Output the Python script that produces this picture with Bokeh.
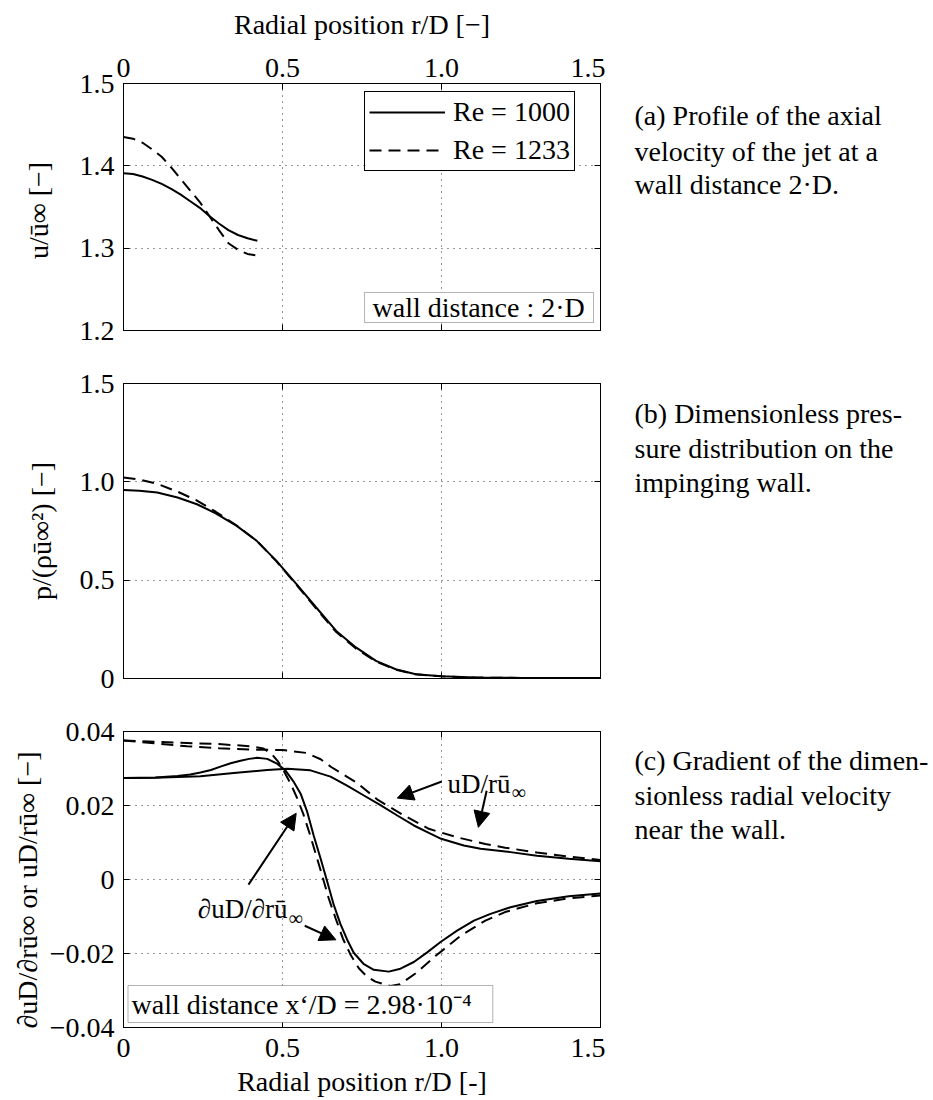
from bokeh.plotting import figure
from bokeh.layouts import column, row
from bokeh.models import (FixedTicker, LinearAxis, Range1d, Label, Arrow,
                          NormalHead, BoxAnnotation)
from bokeh.embed import file_html
from bokeh.resources import INLINE

# ---------------- data ----------------
x_ticks = [0, 0.5, 1.0, 1.5]
x_tick_labels = ["0", "0.5", "1.0", "1.5"]
ya_ticks = [1.2, 1.3, 1.4, 1.5]
ya_tick_labels = ["1.2", "1.3", "1.4", "1.5"]
yb_ticks = [0, 0.5, 1.0, 1.5]
yb_tick_labels = ["0", "0.5", "1.0", "1.5"]
yc_ticks = [-0.04, -0.02, 0, 0.02, 0.04]
yc_tick_labels = ["\u22120.04", "\u22120.02", "0", "0.02", "0.04"]

series_names = ["Re = 1000", "Re = 1233"]

# (a) axial velocity profile at wall distance 2D
r_a = [0, 0.03, 0.06, 0.09, 0.12, 0.15, 0.18, 0.21, 0.24, 0.27, 0.30, 0.33, 0.36, 0.39, 0.421]
u_a_1000 = [1.391, 1.390, 1.387, 1.383, 1.378, 1.372, 1.365, 1.357, 1.349, 1.339, 1.330, 1.322, 1.316, 1.312, 1.309]
u_a_1233 = [1.435, 1.433, 1.428, 1.420, 1.411, 1.398, 1.384, 1.370, 1.356, 1.339, 1.322, 1.306, 1.298, 1.293, 1.291]

# (b) pressure on the impinging wall
r_b = [0, 0.05, 0.106, 0.17, 0.231, 0.29, 0.356, 0.419, 0.481, 0.544, 0.606, 0.669,
       0.731, 0.794, 0.856, 0.919, 1.0, 1.106, 1.25, 1.5]
p_b_1000 = [0.959, 0.955, 0.946, 0.920, 0.886, 0.840, 0.776, 0.700, 0.598, 0.480, 0.361, 0.242,
            0.158, 0.090, 0.047, 0.022, 0.012, 0.005, 0.003, 0.002]
p_b_1233 = [1.022, 1.012, 0.990, 0.950, 0.905, 0.848, 0.778, 0.700, 0.596, 0.476, 0.355, 0.236,
            0.152, 0.086, 0.045, 0.021, 0.011, 0.005, 0.003, 0.002]

# (c) radial velocity near the wall: uD/(r u_inf)
r_c_u1000 = [0, 0.1, 0.242, 0.347, 0.452, 0.515, 0.588, 0.651, 0.703, 0.756, 0.808, 0.861,
             0.913, 0.965, 0.999, 1.070, 1.123, 1.217, 1.3, 1.4, 1.5]
u_c_1000 = [0.0274, 0.0275, 0.0279, 0.0288, 0.0296, 0.0299, 0.0295, 0.0278, 0.0254, 0.0227, 0.0201, 0.0173,
            0.0146, 0.0124, 0.0110, 0.0092, 0.0083, 0.0074, 0.0064, 0.0056, 0.0049]
r_c_u1233 = [0, 0.1, 0.2, 0.3, 0.4, 0.5, 0.576, 0.62, 0.653, 0.733, 0.80, 0.882, 0.960,
             1.049, 1.138, 1.2, 1.3, 1.4, 1.5]
u_c_1233 = [0.0376, 0.0368, 0.0360, 0.0355, 0.0351, 0.0350, 0.0342, 0.0325, 0.0304, 0.0262, 0.0215, 0.0173, 0.0137,
            0.0114, 0.0096, 0.0086, 0.0073, 0.0062, 0.0053]

# (c) gradient d(uD)/d(r u_inf)
r_c_g1000 = [0, 0.10, 0.17, 0.21, 0.242, 0.275, 0.305, 0.337, 0.368, 0.395, 0.42, 0.452, 0.483, 0.509,
             0.536, 0.557, 0.578, 0.598, 0.620, 0.641, 0.661, 0.682, 0.703, 0.724, 0.756, 0.787, 0.834,
             0.871, 0.913, 0.955, 0.997, 1.049, 1.102, 1.154, 1.217, 1.3, 1.4, 1.5]
g_c_1000 = [0.0274, 0.0276, 0.0280, 0.0284, 0.0289, 0.0296, 0.0305, 0.0314, 0.0321, 0.0326, 0.0329, 0.0326,
            0.0313, 0.0295, 0.0263, 0.0232, 0.0182, 0.0119, 0.0056, -0.0007, -0.0068, -0.0120, -0.0162,
            -0.0198, -0.0229, -0.0244, -0.0249, -0.0241, -0.0223, -0.0197, -0.0169, -0.0138, -0.0111,
            -0.0093, -0.0075, -0.0058, -0.0045, -0.0038]
r_c_g1233 = [0, 0.1, 0.2, 0.3, 0.4, 0.44, 0.465, 0.485, 0.505, 0.525, 0.545, 0.565, 0.585, 0.605,
             0.625, 0.645, 0.667, 0.69, 0.715, 0.74, 0.765, 0.792, 0.84, 0.87, 0.918, 0.981, 1.06,
             1.138, 1.2, 1.3, 1.4, 1.5]
g_c_1233 = [0.0376, 0.0372, 0.0369, 0.0366, 0.0360, 0.0354, 0.0340, 0.0320, 0.0292, 0.0260, 0.0222, 0.0178, 0.0125, 0.0068,
            0.0010, -0.0050, -0.0105, -0.0160, -0.0205, -0.0240, -0.0262, -0.0276, -0.0288, -0.0283, -0.0254, -0.0207, -0.0152,
            -0.0111, -0.0088, -0.0064, -0.0051, -0.0043]

# captions on the right
caption_a = ["(a) Profile of the axial", "velocity of the jet at a", "wall distance 2\u00b7D."]
caption_b = ["(b) Dimensionless pres-", "sure distribution on the", "impinging wall."]
caption_c = ["(c) Gradient of the dimen-", "sionless radial velocity", "near the wall."]

# ---------------- styling ----------------
FONT = "Liberation Serif"
TICK_FS = "28px"
LABEL_FS = "28px"
TEXT_FS = "27px"
CAPTION_FS = "28px"
DASH = "12 7"
LW = 2

FRAME_L, FRAME_W, FRAME_R = 123, 477, 5
TEXT_W = 933 - FRAME_L - FRAME_W - FRAME_R


def setup_axis(ax, ticks, labels, show):
    ax.ticker = FixedTicker(ticks=ticks)
    ax.major_tick_in = 6
    ax.major_tick_out = 0
    ax.minor_tick_line_color = None
    ax.axis_line_color = "black"
    ax.major_tick_line_color = "black"
    if show:
        ax.major_label_overrides = dict(zip(ticks, labels))
        ax.major_label_text_font = FONT
        ax.major_label_text_font_size = TICK_FS
        ax.major_label_text_color = "black"
        ax.axis_label_text_font = FONT
        ax.axis_label_text_font_size = LABEL_FS
        ax.axis_label_text_font_style = "normal"
        ax.axis_label_text_color = "black"
    else:
        ax.major_label_text_font_size = "0px"
        ax.major_label_text_color = None
        ax.major_label_standoff = 0


def make_fig(yr, top, fh, bottom, xloc):
    p = figure(frame_width=FRAME_W, frame_height=fh,
               min_border_left=FRAME_L, min_border_right=FRAME_R,
               min_border_top=top, min_border_bottom=bottom,
               x_range=Range1d(0, 1.5), y_range=Range1d(*yr),
               x_axis_location=xloc, output_backend="svg", toolbar_location=None)
    p.outline_line_color = "black"
    p.outline_line_width = 1
    p.background_fill_color = "white"
    p.border_fill_color = "white"
    for g in (p.xgrid[0], p.ygrid[0]):
        g.grid_line_color = "#333333"
        g.grid_line_dash = "1 5"
        g.grid_line_width = 1
    return p


def lab(p, x, y, text, size=TEXT_FS, align="left", baseline="alphabetic"):
    p.add_layout(Label(x=x, y=y, text=text, text_font=FONT, text_font_size=size,
                       text_color="black", text_align=align, text_baseline=baseline))


# ---------------- panel (a) ----------------
pa = make_fig((1.2, 1.5), 83, 247, 27, "above")
pa.xgrid[0].ticker = FixedTicker(ticks=x_ticks)
pa.ygrid[0].ticker = FixedTicker(ticks=ya_ticks)
setup_axis(pa.xaxis[0], x_ticks, x_tick_labels, True)
pa.xaxis[0].axis_label = "Radial position r/D [\u2212]"
pa.xaxis[0].major_label_standoff = 7
pa.xaxis[0].axis_label_standoff = 16
setup_axis(pa.yaxis[0], ya_ticks, ya_tick_labels, True)
pa.yaxis[0].axis_label = "u/\u016b\u221e  [\u2212]"
pa.yaxis[0].major_label_standoff = 9
pa.yaxis[0].axis_label_standoff = 23
ax = LinearAxis(); setup_axis(ax, x_ticks, x_tick_labels, False); pa.add_layout(ax, "below")
ax = LinearAxis(); setup_axis(ax, ya_ticks, ya_tick_labels, False); pa.add_layout(ax, "right")

pa.line(r_a, u_a_1000, line_color="black", line_width=LW, legend_label=series_names[0])
pa.line(r_a, u_a_1233, line_color="black", line_width=LW, line_dash=DASH, legend_label=series_names[1])
lg = pa.legend[0]
lg.location = (241, 159)
lg.label_text_font = FONT
lg.label_text_font_size = TICK_FS
lg.label_text_color = "black"
lg.glyph_width = 76
lg.glyph_height = 24
lg.label_height = 24
lg.label_standoff = 8
lg.spacing = 6
lg.padding = 4
lg.margin = 0
lg.border_line_color = "black"
lg.border_line_width = 1
lg.border_line_alpha = 1
lg.background_fill_alpha = 1

pa.add_layout(BoxAnnotation(left=0.758, right=1.478, bottom=1.2097, top=1.2462,
                            fill_color="white", fill_alpha=1, line_color="black", line_width=1))
lab(pa, 0.783, 1.228, "wall distance : 2\u00b7D", size=TICK_FS, baseline="middle")

# ---------------- panel (b) ----------------
pb = make_fig((0, 1.5), 26, 295, 27, "below")
pb.xgrid[0].ticker = FixedTicker(ticks=x_ticks)
pb.ygrid[0].ticker = FixedTicker(ticks=yb_ticks)
setup_axis(pb.xaxis[0], x_ticks, x_tick_labels, False)
setup_axis(pb.yaxis[0], yb_ticks, yb_tick_labels, True)
pb.yaxis[0].axis_label = "p/(\u03c1\u016b\u221e\u00b2) [\u2212]"
pb.yaxis[0].major_label_standoff = 9
pb.yaxis[0].axis_label_standoff = 20
ax = LinearAxis(); setup_axis(ax, x_ticks, x_tick_labels, False); pb.add_layout(ax, "above")
ax = LinearAxis(); setup_axis(ax, yb_ticks, yb_tick_labels, False); pb.add_layout(ax, "right")
pb.line(r_b, p_b_1000, line_color="black", line_width=LW)
pb.line(r_b, p_b_1233, line_color="black", line_width=LW, line_dash=DASH)

# ---------------- panel (c) ----------------
pc = make_fig((-0.04, 0.04), 26, 296, 73, "below")
pc.xgrid[0].ticker = FixedTicker(ticks=x_ticks)
pc.ygrid[0].ticker = FixedTicker(ticks=yc_ticks)
setup_axis(pc.xaxis[0], x_ticks, x_tick_labels, True)
pc.xaxis[0].axis_label = "Radial position r/D [-]"
pc.xaxis[0].major_label_standoff = 11
pc.xaxis[0].axis_label_standoff = 6
setup_axis(pc.yaxis[0], yc_ticks, yc_tick_labels, True)
pc.yaxis[0].axis_label = "\u2202uD/\u2202r\u016b\u221e  or  uD/r\u016b\u221e  [\u2212]"
pc.yaxis[0].major_label_standoff = 9
pc.yaxis[0].axis_label_standoff = 4
ax = LinearAxis(); setup_axis(ax, x_ticks, x_tick_labels, False); pc.add_layout(ax, "above")
ax = LinearAxis(); setup_axis(ax, yc_ticks, yc_tick_labels, False); pc.add_layout(ax, "right")

pc.line(r_c_u1000, u_c_1000, line_color="black", line_width=LW)
pc.line(r_c_u1233, u_c_1233, line_color="black", line_width=LW, line_dash=DASH)
pc.line(r_c_g1000, g_c_1000, line_color="black", line_width=LW)
pc.line(r_c_g1233, g_c_1233, line_color="black", line_width=LW, line_dash=DASH)

for xs, ys, xe, ye in [(1.001, 0.0265, 0.861, 0.0220), (1.142, 0.0240, 1.116, 0.0141),
                       (0.393, -0.0014, 0.543, 0.0179), (0.570, -0.0125, 0.668, -0.0163)]:
    pc.add_layout(Arrow(end=NormalHead(size=16, fill_color="black", line_color="black"),
                        x_start=xs, y_start=ys, x_end=xe, y_end=ye,
                        line_color="black", line_width=2))

lab(pc, 1.217, 0.02586, "uD/r\u016b", align="right")
lab(pc, 1.220, 0.02378, "\u221e", size="20px")
lab(pc, 0.5157, -0.0079, "\u2202uD/\u2202r\u016b", align="right")
lab(pc, 0.519, -0.0103, "\u221e", size="20px")

pc.add_layout(BoxAnnotation(left=0.0142, right=1.1613, bottom=-0.03865, top=-0.02865,
                            fill_color="white", fill_alpha=1, line_color="black", line_width=1))
lab(pc, 0.0252, -0.03365, "wall distance x\u2018/D = 2.98\u00b710\u207b\u2074", size=TICK_FS, baseline="middle")

# ---------------- captions column ----------------
pt = figure(width=TEXT_W, height=1100, x_range=Range1d(0, TEXT_W), y_range=Range1d(1100, 0),
            min_border=0, x_axis_location=None, y_axis_location=None,
            output_backend="svg", toolbar_location=None)
pt.outline_line_color = None
pt.grid.visible = False
pt.background_fill_color = "white"
pt.border_fill_color = "white"
TX = 634 - (FRAME_L + FRAME_W + FRAME_R)
for lines, ys in [(caption_a, [115, 151, 184]), (caption_b, [413, 448, 482]), (caption_c, [760, 795, 829])]:
    for t, y in zip(lines, ys):
        lab(pt, TX, y, t, size=CAPTION_FS)

layout = row(column(pa, pb, pc, spacing=0), pt, spacing=0)
open("out.html", "w").write(file_html(layout, INLINE))
